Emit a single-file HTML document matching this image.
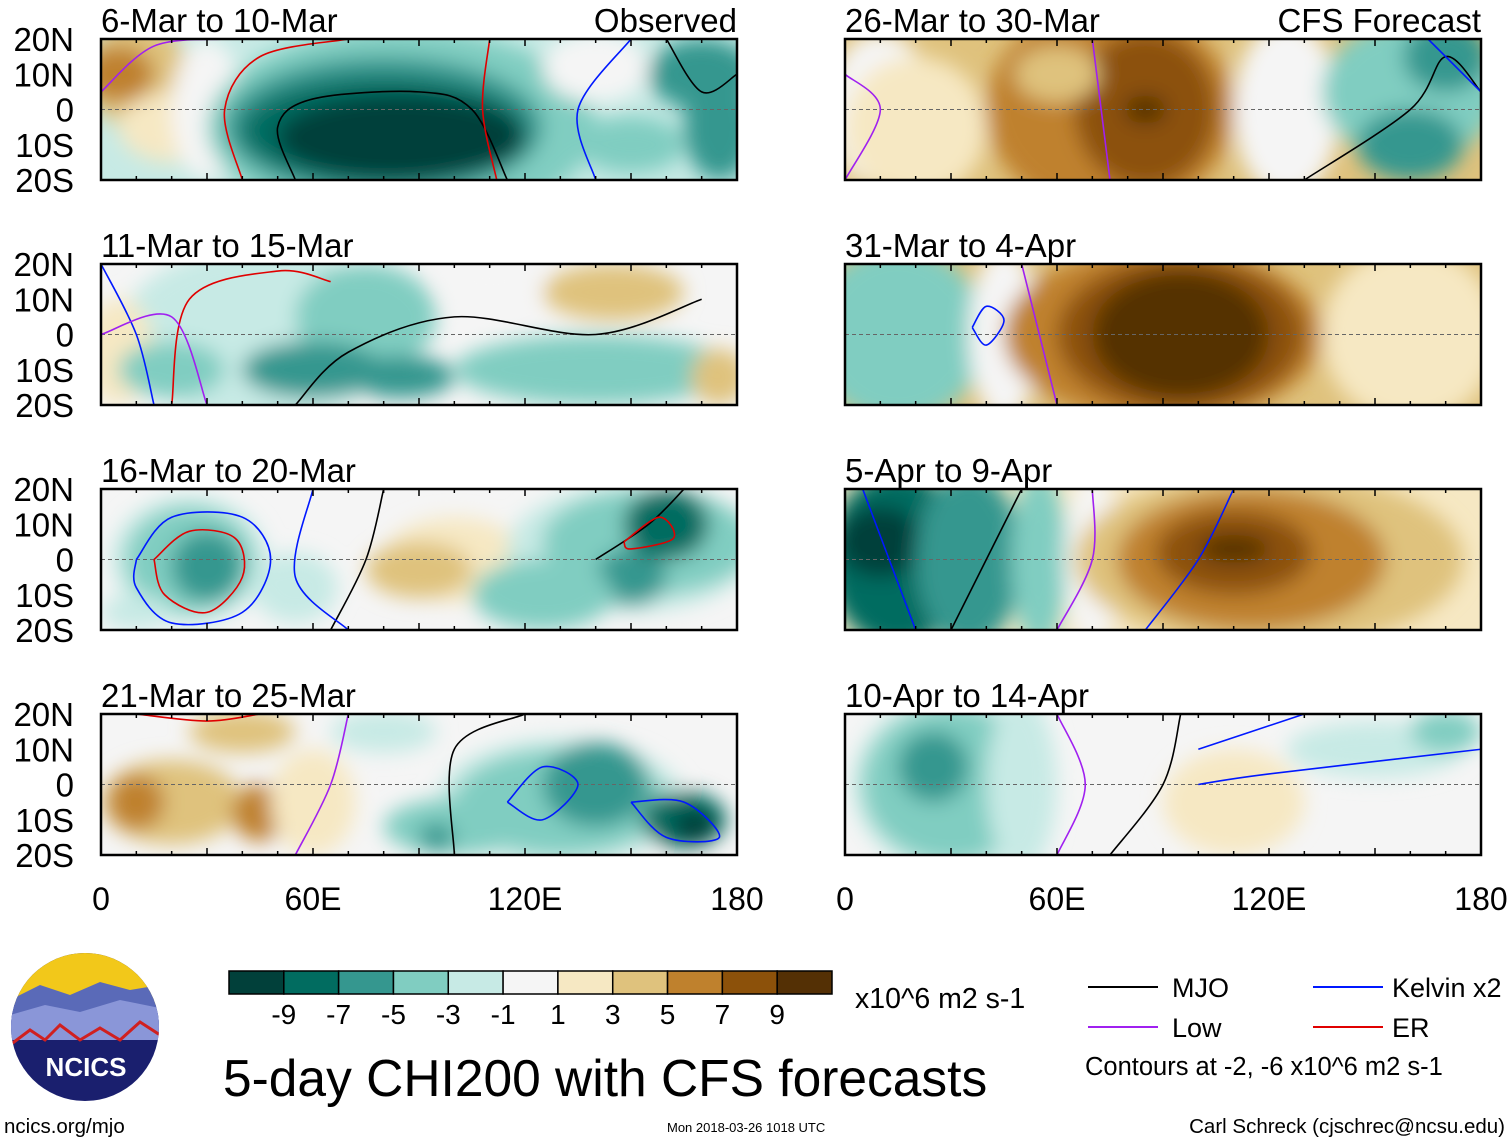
<!DOCTYPE html>
<html><head><meta charset="utf-8"><style>
body{margin:0;background:#fff;width:1510px;height:1142px;overflow:hidden;font-family:"Liberation Sans",sans-serif}
svg text{font-family:"Liberation Sans",sans-serif}
</style></head><body>
<svg id="fig" width="1510" height="1142" xmlns="http://www.w3.org/2000/svg">
<defs><filter id="bl" x="-50%" y="-50%" width="200%" height="200%"><feGaussianBlur stdDeviation="10"/></filter></defs>
</svg>
<script>
const levels=[-9,-7,-5,-3,-1,0,1,3,5,7,9];
const colors=['#01403a','#016c60','#35978f','#80cdc1','#c7eae5','#f5f5f5','#f6e8c3','#dfc27d','#bf812d','#8c510a','#543005'];
const cbLabels=['-9','-7','-5','-3','-1','1','3','5','7','9'];
const titles=['6-Mar to 10-Mar','11-Mar to 15-Mar','16-Mar to 20-Mar','21-Mar to 25-Mar','26-Mar to 30-Mar','31-Mar to 4-Apr','5-Apr to 9-Apr','10-Apr to 14-Apr'];
const bases=[-1,0,0,0,3,3,1,0];
const blobs=[
[[10,10,15,15,3],[5,10,10,8,5],[20,-5,15,10,1],[30,0,10,20,0],[85,-5,55,28,-3],[80,-5,45,20,-5],[80,-6,40,15,-7],[85,-8,35,12,-9],[140,12,15,10,0],[150,-10,15,8,-3],[170,10,15,10,-5],[175,-5,10,15,-5]],
[[45,0,40,25,-1],[5,-5,10,15,1],[20,-10,15,8,-3],[75,5,20,15,-3],[60,-10,20,8,-5],[85,-12,15,6,-5],[140,-10,40,10,-3],[110,15,15,8,0],[145,12,20,8,3],[175,-12,8,8,3]],
[[25,0,22,18,-1],[25,0,18,15,-3],[30,-2,10,10,-5],[55,-8,12,10,-1],[100,0,20,12,1],[90,-3,15,8,3],[150,3,35,18,-1],[155,5,30,15,-3],[150,-5,10,8,-5],[160,10,12,10,-7],[125,-10,20,10,-3],[10,-15,10,5,-1]],
[[20,-5,20,12,3],[10,-5,8,8,5],[45,-8,8,8,5],[40,15,15,6,3],[60,-5,12,15,1],[80,15,15,6,-1],[130,-5,35,18,-1],[130,-5,30,15,-3],[140,0,15,12,-5],[100,-12,20,8,-3],[95,-15,5,4,-5],[165,-10,12,8,-7],[168,-12,6,5,-9]],
[[10,0,15,22,0],[20,-5,20,20,1],[75,0,35,30,5],[85,0,20,22,7],[85,0,6,4,9],[125,0,15,25,0],[60,10,12,8,3],[160,5,25,20,-3],[160,-10,15,10,-5],[170,15,12,10,-5]],
[[15,0,25,25,-3],[45,0,10,25,0],[90,0,45,25,5],[95,0,35,22,7],[95,0,25,18,9],[160,0,25,25,1]],
[[15,0,20,25,-7],[10,5,12,10,-9],[35,0,15,25,-5],[55,0,8,25,-3],[70,0,8,25,0],[120,0,55,25,3],[115,0,38,20,5],[110,2,22,12,7],[110,3,10,4,9]],
[[30,0,28,25,-1],[30,0,25,22,-3],[25,5,10,10,-5],[50,0,10,25,-1],[110,-5,20,15,1],[150,10,25,8,-1],[170,15,10,6,-3]]
];
const lineCol={k:'#000',b:'#0018ff',r:'#e00000',p:'#a020f0'};
const contours=[
[['k',[[55,-20],[50,-5],[60,3],[90,5],[105,0],[115,-20]]],['r',[[40,-20],[35,0],[45,15],[70,20]]],['r',[[110,20],[108,0],[112,-20]]],['b',[[140,-20],[135,0],[150,20]]],['k',[[160,20],[170,5],[180,10]]],['p',[[0,5],[15,18],[35,20]]]],
[['k',[[55,-20],[70,-5],[100,5],[140,0],[170,10]]],['r',[[20,-20],[25,10],[50,18],[65,15]]],['b',[[0,20],[10,0],[15,-20]]],['p',[[0,0],[20,5],[30,-20]]]],
[['b',[[10,0],[20,12],[40,12],[48,0],[40,-15],[20,-18],[10,-8],[10,0]]],['r',[[15,0],[25,8],[38,6],[40,-5],[30,-15],[18,-10],[15,0]]],['k',[[65,-20],[75,0],[80,20]]],['k',[[140,0],[155,10],[165,20]]],['r',[[148,5],[158,12],[162,6],[150,3],[148,5]]],['b',[[60,20],[55,-5],[70,-20]]]],
[['b',[[115,-5],[125,5],[135,0],[125,-10],[115,-5]]],['b',[[150,-5],[160,-15],[175,-15],[165,-5],[150,-5]]],['r',[[10,20],[30,18],[45,20]]],['p',[[55,-20],[65,0],[70,20]]],['k',[[100,-20],[100,10],[120,20]]]],
[['k',[[130,-20],[160,0],[170,15],[180,5]]],['p',[[0,-20],[10,0],[0,10]]],['p',[[70,20],[75,-20]]],['b',[[165,20],[180,5]]]],
[['p',[[60,-20],[55,0],[50,20]]],['b',[[36,2],[40,8],[45,4],[40,-3],[36,2]]]],
[['k',[[30,-20],[40,0],[50,20]]],['p',[[60,-20],[70,0],[70,20]]],['b',[[85,-20],[100,0],[110,20]]],['b',[[5,20],[20,-20]]]],
[['p',[[60,-20],[68,0],[60,20]]],['k',[[75,-20],[90,0],[95,20]]],['b',[[100,0],[120,3],[180,10]]],['b',[[100,10],[130,20]]]]
];
const NS='http://www.w3.org/2000/svg';
const svg=document.getElementById('fig');
function mk(t,a,p){const e=document.createElementNS(NS,t);for(const k in a)e.setAttribute(k,a[k]);(p||svg).appendChild(e);return e;}
function col(v){return colors[levels.indexOf(v)];}
function smooth(P){let d='M'+P[0][0]+','+P[0][1];for(let i=0;i<P.length-1;i++){const p0=P[i-1]||P[i],p1=P[i],p2=P[i+1],p3=P[i+2]||p2;d+=' C'+(p1[0]+(p2[0]-p0[0])/6)+','+(p1[1]+(p2[1]-p0[1])/6)+' '+(p2[0]-(p3[0]-p1[0])/6)+','+(p2[1]-(p3[1]-p1[1])/6)+' '+p2[0]+','+p2[1];}return d;}
const PX=[101,845],PY=[39,264,489,714],PW=636,PH=141;
for(let i=0;i<8;i++){
 const x0=PX[i<4?0:1],y0=PY[i%4];
 const lx=l=>x0+l/180*PW, ly=t=>y0+(20-t)/40*PH;
 const g=mk('g',{});
 
 
 mk('clipPath',{id:'c'+i},g);
 mk('rect',{x:x0,y:y0,width:PW,height:PH},g.lastChild);
 const inner=mk('g',{'clip-path':'url(#c'+i+')'},g);
 mk('rect',{x:x0,y:y0,width:PW,height:PH,fill:col(bases[i])},inner);
 const fg=mk('g',{filter:'url(#bl)'},inner);
 blobs[i].forEach(b=>{
  const e=mk('ellipse',{cx:lx(b[0]),cy:ly(b[1]),rx:b[2]/180*PW,ry:b[3]/40*PH,fill:col(b[4])},fg);
  
  
 });
 mk('line',{x1:x0,x2:x0+PW,y1:ly(0),y2:ly(0),stroke:'#666','stroke-dasharray':'4,3','stroke-width':1},inner);
 contours[i].forEach(c=>{
  const p=mk('path',{d:smooth(c[1].map(q=>[lx(q[0]),ly(q[1])])),fill:'none',stroke:lineCol[c[0]],'stroke-width':1.6},inner);
  
  
 });
 mk('rect',{x:x0,y:y0,width:PW,height:PH,fill:'none',stroke:'#000','stroke-width':2.5},g);
 for(let l=0;l<=180;l+=10){const L=l%30?4:7;mk('line',{x1:lx(l),x2:lx(l),y1:y0,y2:y0+L,stroke:'#000','stroke-width':1.5},g);mk('line',{x1:lx(l),x2:lx(l),y1:y0+PH,y2:y0+PH-L,stroke:'#000','stroke-width':1.5},g);}
 const t=mk('text',{x:x0,y:y0-7,'font-size':33},g);t.textContent=titles[i];
 
 
 if(i===0){const o=mk('text',{x:x0+PW,y:y0-7,'font-size':33,'text-anchor':'end'},g);o.textContent='Observed';}
 if(i===4){const o=mk('text',{x:x0+PW,y:y0-7,'font-size':33,'text-anchor':'end'},g);o.textContent='CFS Forecast';}
 if(i<4){['20N','10N','0','10S','20S'].forEach((s,k)=>{const a=mk('text',{x:74,y:y0+k*PH/4+12,'font-size':33,'text-anchor':'end'},g);a.textContent=s;});}
 if(i%4===3){['0','60E','120E','180'].forEach((s,k)=>{const a=mk('text',{x:x0+k*PW/3,y:910,'font-size':32,'text-anchor':'middle'},g);a.textContent=s;});}
}
const cb=mk('g',{});


const bw=603/colors.length;
colors.forEach((c,k)=>mk('rect',{x:229+k*bw,y:971,width:bw,height:23,fill:c,stroke:'#000','stroke-width':1.5},cb));
cbLabels.forEach((s,k)=>{const t=mk('text',{x:229+(k+1)*bw,y:1024,'font-size':28,'text-anchor':'middle'},cb);t.textContent=s;});
function txt(x,y,s,sz,name,anchor){const t=mk('text',{x:x,y:y,'font-size':sz,'text-anchor':anchor||'start'});t.textContent=s;return t;}
txt(855,1008,'x10^6 m2 s-1',28.5,'colorbar-units');
txt(223,1096,'5-day CHI200 with CFS forecasts',51.5,'figure-title');
[['#000',1088,987,'MJO',1172],['#0018ff',1313,987,'Kelvin x2',1392],['#a020f0',1088,1027,'Low',1172],['#e00000',1313,1027,'ER',1392]].forEach(l=>{
 const g=mk('g',{});
 mk('line',{x1:l[1],x2:l[1]+70,y1:l[2],y2:l[2],stroke:l[0],'stroke-width':2},g);
 const t=mk('text',{x:l[4],y:l[2]+10,'font-size':27},g);t.textContent=l[3];
});
txt(1085,1075,'Contours at -2, -6 x10^6 m2 s-1',25.5,'contour-note');
txt(4,1133,'ncics.org/mjo',20.5,'url-credit');
txt(667,1132,'Mon 2018-03-26 1018 UTC',13,'timestamp');
txt(1505,1133,'Carl Schreck (cjschrec@ncsu.edu)',20.5,'author-credit','end');
const lg=mk('g',{});
mk('clipPath',{id:'lc'},lg);mk('circle',{cx:85,cy:1027,r:74},lg.lastChild);
const li=mk('g',{'clip-path':'url(#lc)'},lg);
mk('rect',{x:10,y:950,width:150,height:160,fill:'#1a1f6e'},li);
mk('rect',{x:10,y:950,width:150,height:55,fill:'#f2c81a'},li);
mk('polygon',{points:'10,1000 40,985 70,995 100,982 130,990 160,985 160,1030 10,1030',fill:'#5a6ab8'},li);
mk('polygon',{points:'10,1015 45,1005 80,1012 120,1000 160,1008 160,1040 10,1040',fill:'#8a96d8'},li);
mk('polyline',{points:'10,1045 30,1030 45,1040 60,1025 80,1040 100,1028 120,1040 140,1022 160,1035',fill:'none',stroke:'#d02020','stroke-width':3},li);
const lt=mk('text',{x:86,y:1076,'font-size':26,'font-weight':'bold',fill:'#fff','text-anchor':'middle'},lg);lt.textContent='NCICS';
</script>
</body></html>
